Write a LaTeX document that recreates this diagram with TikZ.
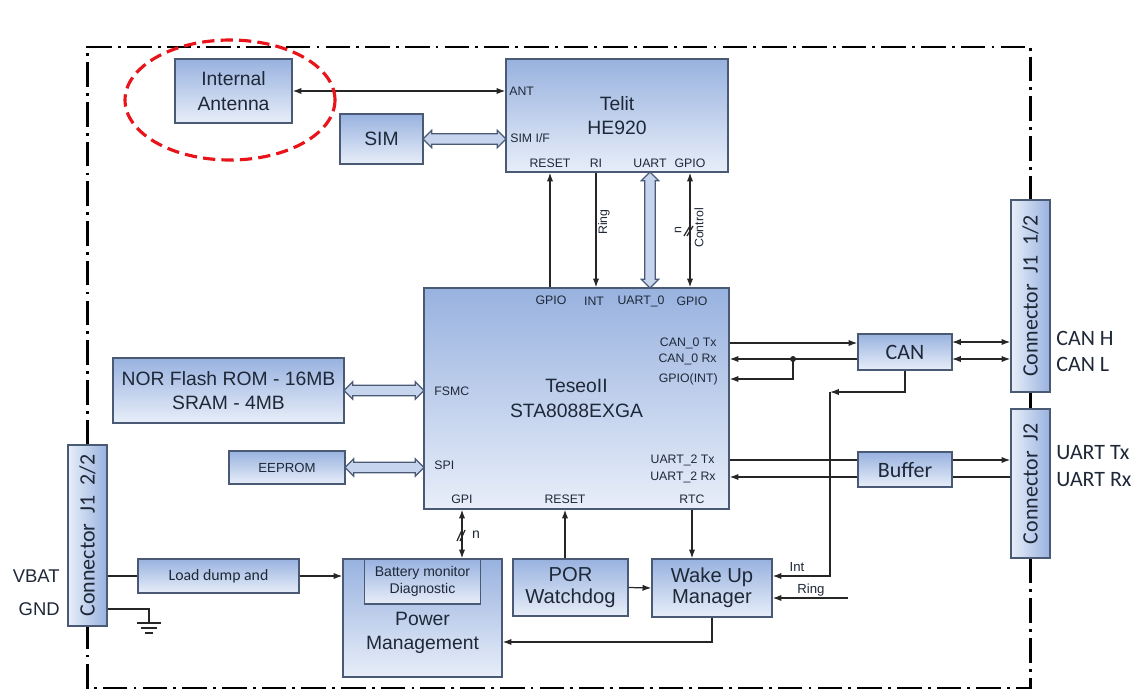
\documentclass[tikz,border=0pt]{standalone}
\usepackage{fontspec}
\setmainfont{Liberation Sans}
\newfontfamily\calfont{Carlito}
\usepackage{tikz}
\usetikzlibrary{positioning, arrows.meta, shapes.arrows}

\definecolor{boxtop}{HTML}{98B2DF}
\definecolor{boxbot}{HTML}{E8EEF9}
\definecolor{bordc}{HTML}{4A5A75}
\definecolor{fatc}{HTML}{C6D4EE}
\definecolor{txtc}{HTML}{1E2838}
\definecolor{wirec}{HTML}{262626}
\definecolor{markred}{HTML}{E8141A}

\tikzset{
  blk/.style={draw=bordc, line width=0.8pt, top color=boxtop, bottom color=boxbot,
    align=center, inner sep=1pt, text=txtc, font=\fontsize{11}{14}\selectfont},
  cblk/.style={blk, font=\calfont\fontsize{12.5}{14}\selectfont},
  conbox/.style={draw=bordc, line width=0.8pt, left color=boxbot, right color=boxtop,
    rotate=90, inner sep=1pt, text=txtc, minimum height=0.78cm,
    font=\calfont\fontsize{12.5}{14}\selectfont},
  port/.style={inner sep=0pt, text=txtc, font=\fontsize{7}{8}\selectfont},
  extl/.style={inner sep=0pt, text=txtc, font=\calfont\fontsize{12.5}{14}\selectfont},
  wire/.style={line width=0.7pt, draw=wirec},
  fatarr/.style={double arrow, draw=bordc, line width=0.7pt, fill=fatc, inner sep=2.6pt,
    double arrow head extend=2pt, double arrow head indent=0pt,
    sloped, midway, minimum height=#1},
  frame/.style={line width=1.2pt, draw=black, dash pattern=on 14pt off 3.5pt on 1.6pt off 3.5pt},
}

\begin{document}
\begin{tikzpicture}[x=0.02cm, y=-0.02cm, >={Latex[length=5pt,width=3.6pt]}]
\useasboundingbox (0,0) rectangle (1142,690);

% blocks
\node[blk, minimum width=2.34cm, minimum height=1.28cm] (ant) at (233.5,91) {Internal\\Antenna};
\node[blk, minimum width=1.66cm, minimum height=1cm] (sim) at (381.5,139) {SIM};
\node[blk, minimum width=4.44cm, minimum height=2.26cm] (telit) at (617,115.5) {Telit\\HE920};
\node[blk, minimum width=6.1cm, minimum height=4.42cm] (teseo) at (576.5,398.5) {TeseoII\\STA8088EXGA};
\node[blk, minimum width=4.62cm, minimum height=1.3cm] (nor) at (228.5,390.5) {NOR Flash ROM - 16MB\\SRAM - 4MB};
\node[blk, font=\fontsize{7.5}{9}\selectfont, minimum width=2.32cm, minimum height=0.66cm] (eeprom) at (287,467.5) {EEPROM};
\node[cblk, minimum width=1.88cm, minimum height=0.72cm] (can) at (905,352) {CAN};
\node[cblk, minimum width=1.88cm, minimum height=0.7cm] (buffer) at (905,469.5) {Buffer};
\node[conbox, minimum width=3.84cm] (conA) at (1030.5,296) {Connector\ \ J1\ \ 1/2};
\node[conbox, minimum width=2.98cm] (conB) at (1030.5,483.5) {Connector\ \ J2};
\node[conbox, minimum width=3.62cm] (conC) at (87.5,535.5) {Connector\ \ J1\ \ 2/2};
\node[blk, font=\calfont\fontsize{9}{11}\selectfont, minimum width=3.22cm, minimum height=0.68cm] (load) at (218.5,576) {Load dump and};
\node[blk, minimum width=3.18cm, minimum height=2.36cm] (pm) at (422.5,618) {};
\node[blk, font=\fontsize{8}{9.6}\selectfont, minimum width=2.32cm, minimum height=0.9cm, anchor=north] (batt) at (pm.north) {Battery monitor\\Diagnostic};
\node[align=center, inner sep=0pt, text=txtc, font=\fontsize{11}{14}\selectfont] (pmtext) at (422.5,633) {Power\\Management};
\node[blk, font=\fontsize{11.5}{12}\selectfont, minimum width=2.3cm, minimum height=1.14cm] (por) at (570.5,587.5) {POR\\Watchdog};
\node[blk, font=\fontsize{11.5}{12}\selectfont, minimum width=2.4cm, minimum height=1.16cm] (wake) at (712,588) {Wake Up\\Manager};

% port labels
\node[port, anchor=west] (pAnt) at (509,91) {ANT};
\node[port, anchor=west] (pSim) at (510,138) {SIM I/F};
\node[port] (hRst) at (550,163) {RESET};
\node[port] (hRI) at (596,163) {RI};
\node[port] (hUart) at (650,163) {UART};
\node[port] (hGpio) at (690,163) {GPIO};
\node[port] (tGpio) at (551,300) {GPIO};
\node[port] (tInt) at (594,301) {INT};
\node[port] (tUart) at (641,301) {UART\_0};
\node[port] (tGpio2) at (692,301) {GPIO};
\node[port, anchor=east] (pCanTx) at (717,343) {CAN\_0 Tx};
\node[port, anchor=east] (pCanRx) at (717,359) {CAN\_0 Rx};
\node[port, anchor=east] (pGpioInt) at (718,379) {GPIO(INT)};
\node[port, anchor=east] (pU2Tx) at (715,460) {UART\_2 Tx};
\node[port, anchor=east] (pU2Rx) at (716,477) {UART\_2 Rx};
\node[port, anchor=west] (pFsmc) at (434,391) {FSMC};
\node[port, anchor=west] (pSpi) at (434,465) {SPI};
\node[port] (pGpi) at (462,499) {GPI};
\node[port] (pRst) at (565,499) {RESET};
\node[port] (pRtc) at (692,499) {RTC};

% outside labels
\node[extl, anchor=west] (lCanH) at (1056,338) {CAN H};
\node[extl, anchor=west] (lCanL) at (1056,364) {CAN L};
\node[extl, anchor=west] (lUTx) at (1056,453) {UART Tx};
\node[extl, anchor=west] (lURx) at (1056,480) {UART Rx};
\node[inner sep=0pt, text=txtc, font=\fontsize{10.5}{12}\selectfont, anchor=east] (lVbat) at (60,576) {VBAT};
\node[inner sep=0pt, text=txtc, font=\fontsize{10.5}{12}\selectfont, anchor=east] (lGnd) at (60,609) {GND};

% Telit links
\draw[wire,<->] (ant.east) -- (ant.east -| telit.west);
\path (sim.east) -- (sim.east -| telit.west) node[fatarr=1.66cm] (aSim) {};
\draw[wire,->] (teseo.north -| hRst) -- (telit.south -| hRst);
\draw[wire,->] (telit.south -| hRI) -- (teseo.north -| hRI);
\path (telit.south -| hUart) -- (teseo.north -| hUart) node[fatarr=2.32cm] (aUart) {};
\draw[wire,<->] (telit.south -| hGpio) -- (teseo.north -| hGpio);
\node[port, rotate=90] (lRing) at (604,222) {Ring};
\node[port, rotate=90] (lCtrl) at (699,228) {Control};
\node[port, rotate=90] (lN1) at (678,230) {n};
\draw[wire] (684,236) -- (690,226);
\draw[wire] (687,236) -- (693,226);

% CAN side
\draw[wire,->] (teseo.east |- pCanTx) -- (can.west |- pCanTx);
\draw[wire,->] (can.west |- pCanRx) -- (teseo.east |- pCanRx);
\coordinate (split) at (793,359);
\fill[wirec] (split) circle (1.7pt);
\draw[wire,->] (split) |- (teseo.east |- pGpioInt);
\coordinate (intUp) at (830,392);
\draw[wire,->] (can.south) |- (intUp);
\draw[wire,->] (intUp) |- ([yshift=0.24cm]wake.east);
\coordinate (canH) at (952,342);
\coordinate (canL) at (952,359);
\draw[wire,<->] (canH) -- (canH -| conA.north);
\draw[wire,<->] (canL) -- (canL -| conA.north);

% UART side
\draw[wire] (teseo.east |- pU2Tx) -- (buffer.west |- pU2Tx);
\draw[wire,->] (buffer.east |- pU2Tx) -- (conB.north |- pU2Tx);
\draw[wire] (conB.north |- pU2Rx) -- (buffer.east |- pU2Rx);
\draw[wire,->] (buffer.west |- pU2Rx) -- (teseo.east |- pU2Rx);

% memories
\path (nor.east) -- (nor.east -| teseo.west) node[fatarr=1.6cm] (aNor) {};
\path (eeprom.east) -- (eeprom.east -| teseo.west) node[fatarr=1.58cm] (aEep) {};

% power
\draw[wire] (conC.south |- load.west) -- (load.west);
\draw[wire,->] (load.east) -- (load.east -| pm.west);
\coordinate (gnd) at (149,623);
\draw[wire] (conC.south |- lGnd) -| (gnd);
\draw[wire] ([xshift=-0.24cm]gnd) -- ([xshift=0.24cm]gnd);
\draw[wire] ([xshift=-0.16cm, yshift=-0.1cm]gnd) -- ([xshift=0.16cm, yshift=-0.1cm]gnd);
\draw[wire] ([xshift=-0.08cm, yshift=-0.2cm]gnd) -- ([xshift=0.08cm, yshift=-0.2cm]gnd);
\draw[wire,<->] (teseo.south -| pGpi) -- (pm.north -| pGpi);
\draw[wire] (457,541) -- (462,530);
\draw[wire] (460,541) -- (465,530);
\node[port, font=\fontsize{8}{9}\selectfont] (lN2) at (476,535) {n};
\draw[wire,->] (por.north -| pRst) -- (teseo.south -| pRst);
\draw[wire,->] (por.east) -- (wake.west);
\draw[wire,->] (teseo.south -| pRtc) -- (wake.north -| pRtc);
\draw[wire,->] (wake.south) |- ([yshift=-0.48cm]pm.east);
\coordinate (ringIn) at (848,598);
\draw[wire,->] (ringIn) -- (ringIn -| wake.east);
\node[port, font=\fontsize{7.5}{9}\selectfont] (lInt) at (797,567) {Int};
\node[port, font=\fontsize{7.5}{9}\selectfont] (lRing2) at (811,590) {Ring};

% board outline
\coordinate (topR) at (1030.5,47);
\coordinate (botR) at (1030.5,688);
\draw[frame] (conC.east) -- (conC.east |- topR) -- (topR) -- (conA.east);
\draw[frame] (conA.west) -- (conB.east);
\draw[frame] (conB.west) -- (botR) -- (botR -| conC.west) -- (conC.west);

% highlight
\draw[markred, line width=1.8pt, dash pattern=on 7pt off 3.5pt] (230,100) ellipse [x radius=2.1cm, y radius=1.2cm];
\end{tikzpicture}
\end{document}
